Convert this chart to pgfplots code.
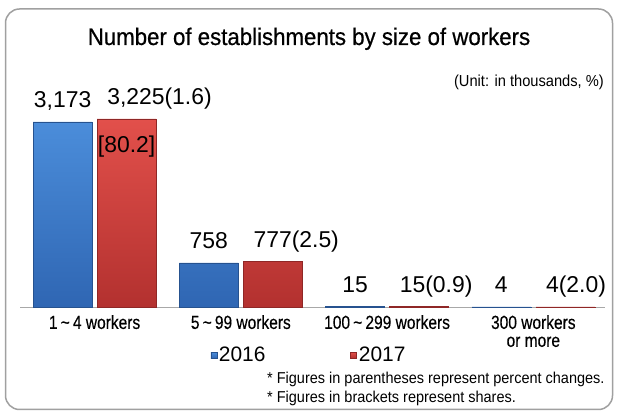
\documentclass[border=0pt]{standalone}
\usepackage{pgfplots}
\pgfplotsset{compat=1.18}
\usepackage{pgfplotstable}
\usepackage{fontspec}
\setmainfont{Liberation Sans}
\newfontfamily\titlef[FakeStretch=0.93, FakeBold=0.6]{Liberation Sans}
\newfontfamily\catf[FakeStretch=0.82, FakeBold=0.3]{Liberation Sans}
\newfontfamily\cond[FakeStretch=0.92]{Liberation Sans}
\definecolor{bluetop}{HTML}{4B8DDA}
\definecolor{bluebot}{HTML}{2F66B3}
\definecolor{redtop}{HTML}{E2504B}
\definecolor{redbot}{HTML}{B3312F}
\definecolor{framegray}{HTML}{A0A0A0}
\definecolor{axisgray}{HTML}{A8A8A8}

\pgfplotstableread{
x  y     lab
0  3173  {3,173}
1  758   758
2  15    15
3  4     4
}\tsixteen
\pgfplotstableread{
x  y     lab
0  3225  {3,225(1.6)}
1  777   {777(2.5)}
2  15    {15(0.9)}
3  4     {4(2.0)}
}\tseventeen

\begin{document}
\begin{tikzpicture}
\useasboundingbox (0bp,0bp) rectangle (618bp,414bp);
\draw[framegray, line width=1.5bp, rounded corners=14bp] (5.5bp,4.5bp) rectangle (612.5bp,405bp);
\node[font=\titlef\fontsize{24}{28}\selectfont, anchor=base, inner sep=0pt] at (309bp,369bp) {Number of establishments by size of workers};
\node[font=\cond\fontsize{16}{18}\selectfont, anchor=east, inner sep=0pt] at (604bp,332bp) {(Unit: in thousands, \%)};
\node[font=\cond\fontsize{15.8}{17}\selectfont, anchor=west, inner sep=0pt] at (267bp,35bp) {* Figures in parentheses represent percent changes.};
\node[font=\cond\fontsize{15.8}{17}\selectfont, anchor=west, inner sep=0pt] at (267bp,16bp) {* Figures in brackets represent shares.};
\begin{axis}[
  at={(20bp,107bp)}, anchor=south west,
  scale only axis, width=585bp, height=210bp,
  xmin=-0.51, xmax=3.49, ymin=0, ymax=3600,
  clip=false,
  ybar=5bp, bar width=59bp,
  axis x line*=bottom, axis y line=none,
  x axis line style={axisgray, line width=0.8bp, -},
  ytick=\empty,
  xtick={0,1,2,3},
  xticklabels={1\,\textasciitilde\,4 workers, 5\,\textasciitilde\,99 workers, 100\,\textasciitilde\,299 workers, 300 workers\\or more},
  major tick length=0pt,
  xticklabel style={font=\catf\fontsize{19}{18}\selectfont, align=center, inner sep=0pt, anchor=north, yshift=-8bp},
  nodes near coords, point meta=explicit symbolic,
  every node near coord/.append style={font=\fontsize{23}{26}\selectfont, inner sep=0pt, anchor=base, yshift=14bp, text=black},
  legend style={at={(0.494,-0.229)}, anchor=center, draw=none, fill=none,
    font=\fontsize{21}{24}\selectfont,
    /tikz/every even column/.append style={column sep=83bp}},
  legend columns=2,
  legend image code/.code={\fill[#1] (0bp,-3bp) rectangle (6bp,3bp);},
]
\addplot[draw=bluebot!80!black, line width=0.4bp, top color=bluetop, bottom color=bluebot]
  table[x=x, y=y, meta=lab] {\tsixteen};
\addlegendentry{2016}
\addplot[draw=redbot!80!black, line width=0.4bp, top color=redtop, bottom color=redbot,
  every node near coord/.append style={anchor=base west, xshift=-19.5bp}]
  table[x=x, y=y, meta=lab] {\tseventeen};
\addlegendentry{2017}
\node[font=\fontsize{23}{26}\selectfont] at ([xshift=32bp,yshift=-28bp]axis cs:0,3225) {[80.2]};
\end{axis}
\end{tikzpicture}
\end{document}
